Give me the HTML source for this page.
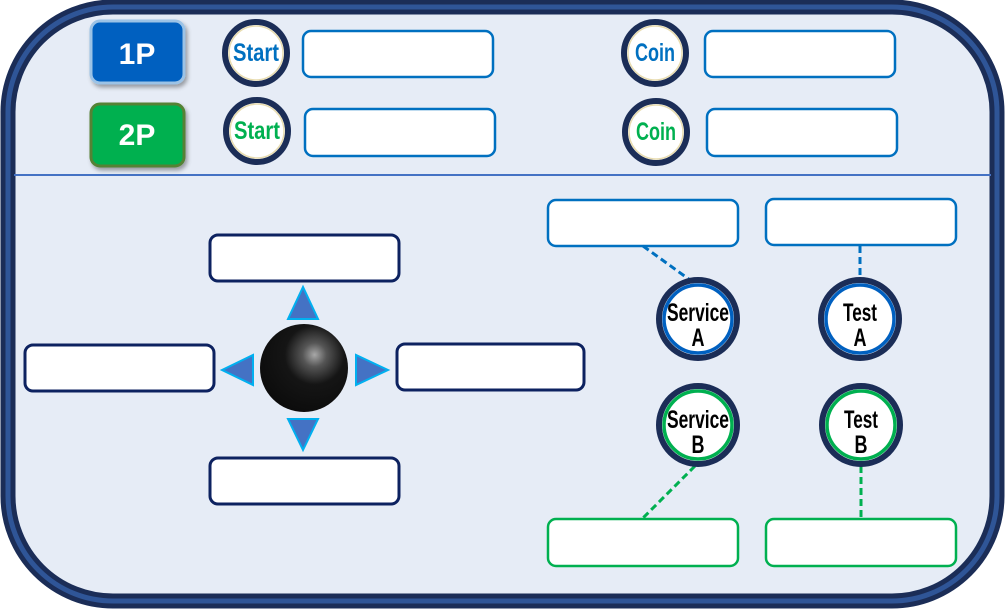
<!DOCTYPE html>
<html><head><meta charset="utf-8"><style>
html,body{margin:0;padding:0;background:#fff;}
svg{display:block;}
text{font-family:"Liberation Sans",sans-serif;}
.nar{font-family:"Liberation Sans Narrow","Liberation Sans",sans-serif;font-weight:bold;}
</style></head><body>
<svg width="1005" height="610" viewBox="0 0 1005 610">
<defs>
<radialGradient id="ball" cx="0.62" cy="0.35" r="0.75">
<stop offset="0" stop-color="#a8a8a8"/><stop offset="0.18" stop-color="#555"/><stop offset="0.45" stop-color="#151515"/><stop offset="1" stop-color="#0a0a0a"/>
</radialGradient>
<filter id="sh" x="-20%" y="-20%" width="150%" height="150%"><feDropShadow dx="2" dy="3" stdDeviation="2" flood-color="#000" flood-opacity="0.35"/></filter>
</defs>
<g>
<rect x="8" y="7" width="989" height="594" rx="105" fill="#e6ecf6" stroke="#1b2d57" stroke-width="15"/>
<rect x="8" y="7" width="989" height="594" rx="105" fill="none" stroke="#2f5597" stroke-width="5"/>
</g>
<line x1="14" y1="175" x2="991" y2="175" stroke="#4472c4" stroke-width="2"/>

<g filter="url(#sh)">
<rect x="91" y="21" width="93" height="62" rx="9" fill="#0060c0" stroke="#9cc3e6" stroke-width="3"/>
<text x="137" y="64" font-size="30" font-weight="bold" fill="#fff" text-anchor="middle">1P</text></g>
<g filter="url(#sh)">
<rect x="91" y="104" width="93" height="62" rx="9" fill="#00b050" stroke="#548235" stroke-width="3"/>
<text x="137" y="145" font-size="30" font-weight="bold" fill="#fff" text-anchor="middle">2P</text></g>

<g>
<circle cx="256" cy="53" r="31" fill="#fff" stroke="#1b2d57" stroke-width="6"/>
<circle cx="256" cy="53" r="27" fill="none" stroke="#e8dcb0" stroke-width="1.5"/>
<text class="nar" x="256" y="61" font-size="25" fill="#0070c0" text-anchor="middle" textLength="46" lengthAdjust="spacingAndGlyphs">Start</text></g>
<g>
<circle cx="257" cy="131" r="31" fill="#fff" stroke="#1b2d57" stroke-width="6"/>
<circle cx="257" cy="131" r="27" fill="none" stroke="#e8dcb0" stroke-width="1.5"/>
<text class="nar" x="257" y="139" font-size="25" fill="#00b050" text-anchor="middle" textLength="46" lengthAdjust="spacingAndGlyphs">Start</text></g>
<g>
<circle cx="655" cy="53" r="31" fill="#fff" stroke="#1b2d57" stroke-width="6"/>
<circle cx="655" cy="53" r="27" fill="none" stroke="#e8dcb0" stroke-width="1.5"/>
<text class="nar" x="655" y="61" font-size="25" fill="#0070c0" text-anchor="middle" textLength="40" lengthAdjust="spacingAndGlyphs">Coin</text></g>
<g>
<circle cx="656" cy="132" r="31" fill="#fff" stroke="#1b2d57" stroke-width="6"/>
<circle cx="656" cy="132" r="27" fill="none" stroke="#e8dcb0" stroke-width="1.5"/>
<text class="nar" x="656" y="140" font-size="25" fill="#00b050" text-anchor="middle" textLength="40" lengthAdjust="spacingAndGlyphs">Coin</text></g>

<g fill="#fff" stroke="#0070c0" stroke-width="2.5">
<rect x="303" y="31" width="190" height="46" rx="8"/>
<rect x="305" y="109" width="190" height="47" rx="8"/>
<rect x="705" y="31" width="190" height="46" rx="8"/>
<rect x="707" y="109" width="190" height="47" rx="8"/>
<rect x="548" y="200" width="190" height="46" rx="8"/>
<rect x="766" y="199" width="190" height="46" rx="8"/>
</g>
<g fill="#fff" stroke="#00b050" stroke-width="2.5">
<rect x="548" y="519" width="190" height="47" rx="8"/>
<rect x="766" y="519" width="190" height="47" rx="8"/>
</g>
<g fill="#fff" stroke="#0d2260" stroke-width="3">
<rect x="210" y="235" width="189" height="46" rx="8"/>
<rect x="25" y="345" width="189" height="46" rx="8"/>
<rect x="397" y="344" width="187" height="46" rx="8"/>
<rect x="210" y="458" width="189" height="46" rx="8"/>
</g>

<g stroke-width="3" stroke-dasharray="7,4">
<line x1="643" y1="246" x2="690" y2="280" stroke="#0070c0"/>
<line x1="860" y1="246" x2="860" y2="278" stroke="#0070c0"/>
<line x1="695" y1="466" x2="643" y2="518" stroke="#00b050"/>
<line x1="861" y1="466" x2="861" y2="518" stroke="#00b050"/>
</g>

<g>
<circle cx="698" cy="319" r="39" fill="#fff" stroke="#1b2d57" stroke-width="6"/>
<circle cx="698" cy="319" r="34" fill="none" stroke="#0060c0" stroke-width="3.5"/>
<text class="nar" x="698" y="321" font-size="25" fill="#000" text-anchor="middle" textLength="62" lengthAdjust="spacingAndGlyphs">Service</text>
<text class="nar" x="698" y="346" font-size="25" fill="#000" text-anchor="middle" textLength="13" lengthAdjust="spacingAndGlyphs">A</text></g>
<g>
<circle cx="860" cy="319" r="39" fill="#fff" stroke="#1b2d57" stroke-width="6"/>
<circle cx="860" cy="319" r="34" fill="none" stroke="#0060c0" stroke-width="3.5"/>
<text class="nar" x="860" y="321" font-size="25" fill="#000" text-anchor="middle" textLength="34" lengthAdjust="spacingAndGlyphs">Test</text>
<text class="nar" x="860" y="346" font-size="25" fill="#000" text-anchor="middle" textLength="13" lengthAdjust="spacingAndGlyphs">A</text></g>
<g>
<circle cx="698" cy="425" r="39" fill="#fff" stroke="#1b2d57" stroke-width="6"/>
<circle cx="698" cy="425" r="34" fill="none" stroke="#00b050" stroke-width="3.5"/>
<text class="nar" x="698" y="428" font-size="25" fill="#000" text-anchor="middle" textLength="62" lengthAdjust="spacingAndGlyphs">Service</text>
<text class="nar" x="698" y="453" font-size="25" fill="#000" text-anchor="middle" textLength="13" lengthAdjust="spacingAndGlyphs">B</text></g>
<g>
<circle cx="861" cy="425" r="39" fill="#fff" stroke="#1b2d57" stroke-width="6"/>
<circle cx="861" cy="425" r="34" fill="none" stroke="#00b050" stroke-width="3.5"/>
<text class="nar" x="861" y="428" font-size="25" fill="#000" text-anchor="middle" textLength="34" lengthAdjust="spacingAndGlyphs">Test</text>
<text class="nar" x="861" y="453" font-size="25" fill="#000" text-anchor="middle" textLength="13" lengthAdjust="spacingAndGlyphs">B</text></g>

<g>
<circle cx="304" cy="368" r="44" fill="url(#ball)"/>
</g>
<g fill="#4472c4" stroke="#00b0f0" stroke-width="2" stroke-linejoin="miter">
<polygon points="303,287 288,319 318,319"/>
<polygon points="222,370 253,355 253,385"/>
<polygon points="388,370 356,355 356,385"/>
<polygon points="303,450 288,419 318,419"/>
</g>
</svg>
</body></html>
